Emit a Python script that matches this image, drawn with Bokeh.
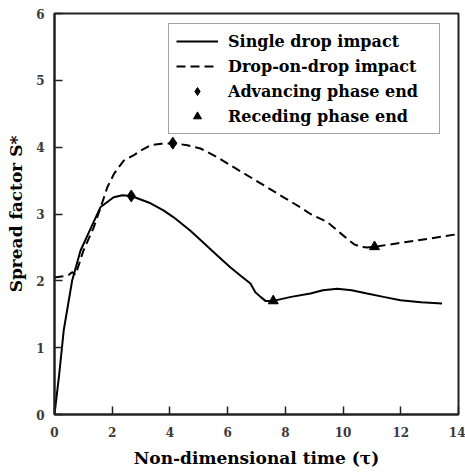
from bokeh.plotting import figure
from bokeh.models import Range1d, Legend, LegendItem, FixedTicker
from bokeh.embed import file_html
from bokeh.resources import INLINE

# Single drop impact (solid)
single_t = [0, 0.07, 0.15, 0.32, 0.61, 0.9, 1.25, 1.59, 2.05, 2.35, 2.66, 3.33, 3.79, 4.13, 4.71,
            5.06, 5.64, 6.10, 6.44, 6.79, 6.96, 7.14, 7.31, 7.58, 8.2, 8.87, 9.3, 9.8, 10.3, 10.83,
            11.4, 11.99, 12.7, 13.43]
single_s = [0, 0.26, 0.55, 1.26, 2.0, 2.45, 2.78, 3.10, 3.25, 3.28, 3.27, 3.16, 3.05, 2.95, 2.75,
            2.61, 2.38, 2.2, 2.08, 1.96, 1.83, 1.76, 1.70, 1.70, 1.76, 1.81, 1.86, 1.88, 1.86, 1.81,
            1.76, 1.71, 1.68, 1.66]

# Drop-on-drop impact (dashed)
dod_t = [0, 0.3, 0.5, 0.61, 0.73, 0.85, 1.0, 1.36, 1.6, 1.83, 2.06, 2.40, 2.75, 3.0, 3.33, 3.7, 4.10,
         4.6, 5.06, 5.64, 6.21, 6.79, 7.94, 8.52, 8.87, 9.45, 10.0, 10.37, 10.6, 10.83, 11.09, 12.5, 14.0]
dod_s = [2.05, 2.07, 2.09, 2.13, 2.09, 2.25, 2.45, 2.80, 3.10, 3.40, 3.60, 3.80, 3.88, 3.95, 4.03, 4.05, 4.06,
         4.03, 3.98, 3.85, 3.70, 3.55, 3.25, 3.10, 3.0, 2.88, 2.68, 2.55, 2.51, 2.50, 2.51, 2.60, 2.70]

# Phase end markers
adv_t = [2.66, 4.10]
adv_s = [3.27, 4.06]
rec_t = [7.58, 11.09]
rec_s = [1.70, 2.51]

x_ticks = [0, 2, 4, 6, 8, 10, 12, 14]
y_ticks = [0, 1, 2, 3, 4, 5, 6]

FONT = "DejaVu Serif"

p = figure(width=465, height=472, x_range=Range1d(0, 14), y_range=Range1d(0, 6),
           output_backend="svg", toolbar_location=None,
           min_border_left=54, min_border_right=7, min_border_top=13, min_border_bottom=58)
p.xgrid.visible = False
p.ygrid.visible = False
p.outline_line_color = "#222222"
p.outline_line_width = 2

for ax in (p.xaxis[0], p.yaxis[0]):
    ax.major_tick_in = 8
    ax.major_tick_out = 0
    ax.minor_tick_line_color = None
    ax.axis_line_width = 2
    ax.axis_line_color = "#222222"
    ax.major_tick_line_color = "#222222"
    ax.major_tick_line_width = 1.5
    ax.major_label_text_font = FONT
    ax.major_label_text_font_style = "bold"
    ax.major_label_text_font_size = "12px"
    ax.major_label_text_color = "#3a3a3a"
    ax.axis_label_text_font = FONT
    ax.axis_label_text_font_style = "bold"
    ax.axis_label_text_font_size = "17px"
    ax.axis_label_text_color = "black"

p.xaxis.ticker = FixedTicker(ticks=x_ticks)
p.yaxis.ticker = FixedTicker(ticks=y_ticks)
p.xaxis.major_label_standoff = 12
p.yaxis.major_label_standoff = 10
p.xaxis.axis_label = "Non-dimensional time (τ)"
p.yaxis.axis_label = "Spread factor S*"
p.xaxis.axis_label_standoff = 8
p.yaxis.axis_label_standoff = 7

r1 = p.line(single_t, single_s, line_color="black", line_width=2)
r2 = p.line(dod_t, dod_s, line_color="black", line_width=2, line_dash="9 5")
r3 = p.scatter(adv_t, adv_s, marker="diamond", size=12, fill_color="black", line_color="black")
r4 = p.scatter(rec_t, rec_s, marker="triangle", size=10, fill_color="black", line_color="black")

legend = Legend(items=[
    LegendItem(label="Single drop impact", renderers=[r1]),
    LegendItem(label="Drop-on-drop impact", renderers=[r2]),
    LegendItem(label="Advancing phase end", renderers=[r3]),
    LegendItem(label="Receding phase end", renderers=[r4]),
], location=(114, 280))
legend.label_text_font = FONT
legend.label_text_font_style = "bold"
legend.label_text_font_size = "16px"
legend.label_text_color = "black"
legend.border_line_color = "#444444"
legend.border_line_width = 1
legend.glyph_width = 42
legend.glyph_height = 20
legend.label_height = 20
legend.label_width = 204
legend.label_standoff = 10
legend.padding = 7
legend.spacing = 5
legend.margin = 0
p.add_layout(legend)

open("out.html", "w").write(file_html(p, INLINE))
